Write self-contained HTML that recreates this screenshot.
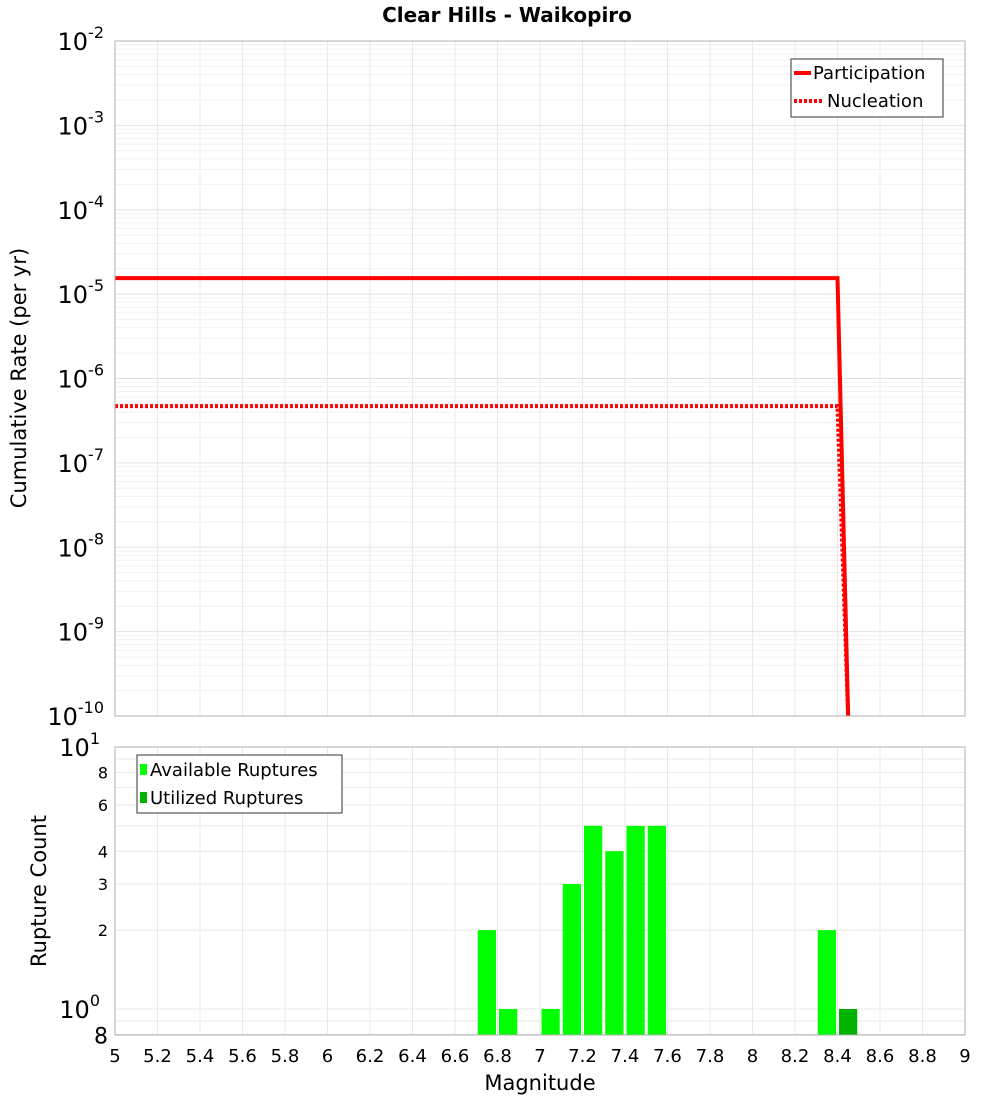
<!DOCTYPE html>
<html><head><meta charset="utf-8"><style>
body{margin:0;background:#fff;width:1000px;height:1100px;overflow:hidden}
svg{font-family:"DejaVu Sans","Liberation Sans",sans-serif}
</style></head><body>
<svg id="c" width="1000" height="1100" xmlns="http://www.w3.org/2000/svg">
<text x="507" y="22" text-anchor="middle" font-size="20" font-weight="bold">Clear Hills - Waikopiro</text>
<text transform="translate(26,378) rotate(-90)" text-anchor="middle" font-size="21">Cumulative Rate (per yr)</text>
<text transform="translate(46,891) rotate(-90)" text-anchor="middle" font-size="21">Rupture Count</text>
<text x="540" y="1090" text-anchor="middle" font-size="21">Magnitude</text>
<g id="grid"></g><g id="marks"></g><g id="axes"></g>
<g>
<rect x="791" y="59" width="152" height="58" fill="#fff" stroke="#333"/>
<line x1="794" y1="73" x2="811" y2="73" stroke="#f00" stroke-width="4"/>
<text x="813" y="79" font-size="18">Participation</text>
<line x1="794" y1="101" x2="822" y2="101" stroke="#f00" stroke-width="4" stroke-dasharray="3,2"/>
<text x="827" y="107" font-size="18">Nucleation</text>
</g>
<g>
<rect x="137" y="755" width="205" height="58" fill="#fff" stroke="#333"/>
<rect x="140" y="764" width="7" height="11" fill="#00ff00"/>
<text x="150" y="776" font-size="18">Available Ruptures</text>
<rect x="140" y="792" width="7" height="11" fill="#00b400"/>
<text x="150" y="804" font-size="18">Utilized Ruptures</text>
</g>
</svg>
<script>
const xTicks=[5,5.2,5.4,5.6,5.8,6,6.2,6.4,6.6,6.8,7,7.2,7.4,7.6,7.8,8,8.2,8.4,8.6,8.8,9];
const topExps=[-2,-3,-4,-5,-6,-7,-8,-9,-10];
const partMag=[5,8.4,8.45];
const partRate=[1.55e-5,1.55e-5,1e-10];
const nuclMag=[5,8.4,8.45];
const nuclRate=[4.7e-7,4.7e-7,1e-10];
const binMag=[6.75,6.85,7.05,7.15,7.25,7.35,7.45,7.55,8.35,8.45];
const binCount=[2,1,1,3,5,4,5,5,2,1];
const binUtil=[0,0,0,0,0,0,0,0,0,1];
const botTicks=[8,6,4,3,2];
const NS="http://www.w3.org/2000/svg";
const L=115,R=965,T1=41,B1=716,T2=747,B2=1035;
const X=m=>L+(m-5)/4*(R-L);
const Y1=v=>T1+(-2-Math.log10(v))/8*(B1-T1);
const Y2=v=>T2+(1-Math.log10(v))*262;
function mk(p,t,a){const e=document.createElementNS(NS,t);for(const k in a)e.setAttribute(k,a[k]);document.getElementById(p).appendChild(e);return e;}
for(const m of xTicks){
 const g1=mk('grid','line',{x1:X(m),x2:X(m),y1:T1,y2:B1,stroke:'#e8e8e8'});
 
 
 const g2=mk('grid','line',{x1:X(m),x2:X(m),y1:T2,y2:B2,stroke:'#e8e8e8'});
 
 
 const t=mk('axes','text',{x:X(m),y:1062,'text-anchor':'middle','font-size':18});
 t.textContent=String(m);
 
 
}
for(let e=-10;e<-2;e++){for(let k=1;k<10;k++){const y=Y1(k*Math.pow(10,e));
 const g=mk('grid','line',{x1:L,x2:R,y1:y,y2:y,stroke:k==1?'#e2e2e2':'#f1f1f1'});
 
 }}
for(const e of topExps){const y=Y1(Math.pow(10,e));
 const t=mk('axes','text',{x:104,y:y+9,'text-anchor':'end','font-size':24});
 t.innerHTML='10<tspan dy="-12" font-size="16">'+e+'</tspan>';
 
 }
for(const v of [0.8,0.9,1,2,3,4,5,6,7,8,9,10]){const y=Y2(v);
 const g=mk('grid','line',{x1:L,x2:R,y1:y,y2:y,stroke:'#e8e8e8'});
 
 }
for(const v of botTicks){const t=mk('axes','text',{x:108,y:Y2(v)+6,'text-anchor':'end','font-size':16});
 t.textContent=v;  }
{let t=mk('axes','text',{x:108,y:Y2(0.8)+9,'text-anchor':'end','font-size':22});t.textContent='8';
 
 t=mk('axes','text',{x:100,y:Y2(1)+9,'text-anchor':'end','font-size':24});t.innerHTML='10<tspan dy="-12" font-size="16">0</tspan>';
 
 t=mk('axes','text',{x:100,y:Y2(10)+9,'text-anchor':'end','font-size':24});t.innerHTML='10<tspan dy="-12" font-size="16">1</tspan>';
 }
const d=mk('marks','clipPath',{id:'cp'});const r=document.createElementNS(NS,'rect');
r.setAttribute('x',L);r.setAttribute('y',T1);r.setAttribute('width',R-L);r.setAttribute('height',B1-T1);d.appendChild(r);
const pp=mk('marks','polyline',{points:partMag.map((m,i)=>X(m)+','+Y1(partRate[i])).join(' '),fill:'none',stroke:'#f00','stroke-width':4,'clip-path':'url(#cp)'});


const np=mk('marks','polyline',{points:nuclMag.map((m,i)=>X(m)+','+Y1(nuclRate[i])).join(' '),fill:'none',stroke:'#f00','stroke-width':4,'stroke-dasharray':'3,2','clip-path':'url(#cp)'});


binMag.forEach((m,i)=>{const x0=X(m-0.05)+1.5,x1=X(m+0.05)-1.5,y=Y2(binCount[i]);
 const b=mk('marks','rect',{x:x0,y:y,width:x1-x0,height:B2-y,fill:binUtil[i]?'#00b400':'#00ff00'});
 
 });
const f1=mk('axes','rect',{x:L,y:T1,width:R-L,height:B1-T1,fill:'none',stroke:'#b0b0b0'});

const f2=mk('axes','rect',{x:L,y:T2,width:R-L,height:B2-T2,fill:'none',stroke:'#b0b0b0'});

</script>
</body></html>
